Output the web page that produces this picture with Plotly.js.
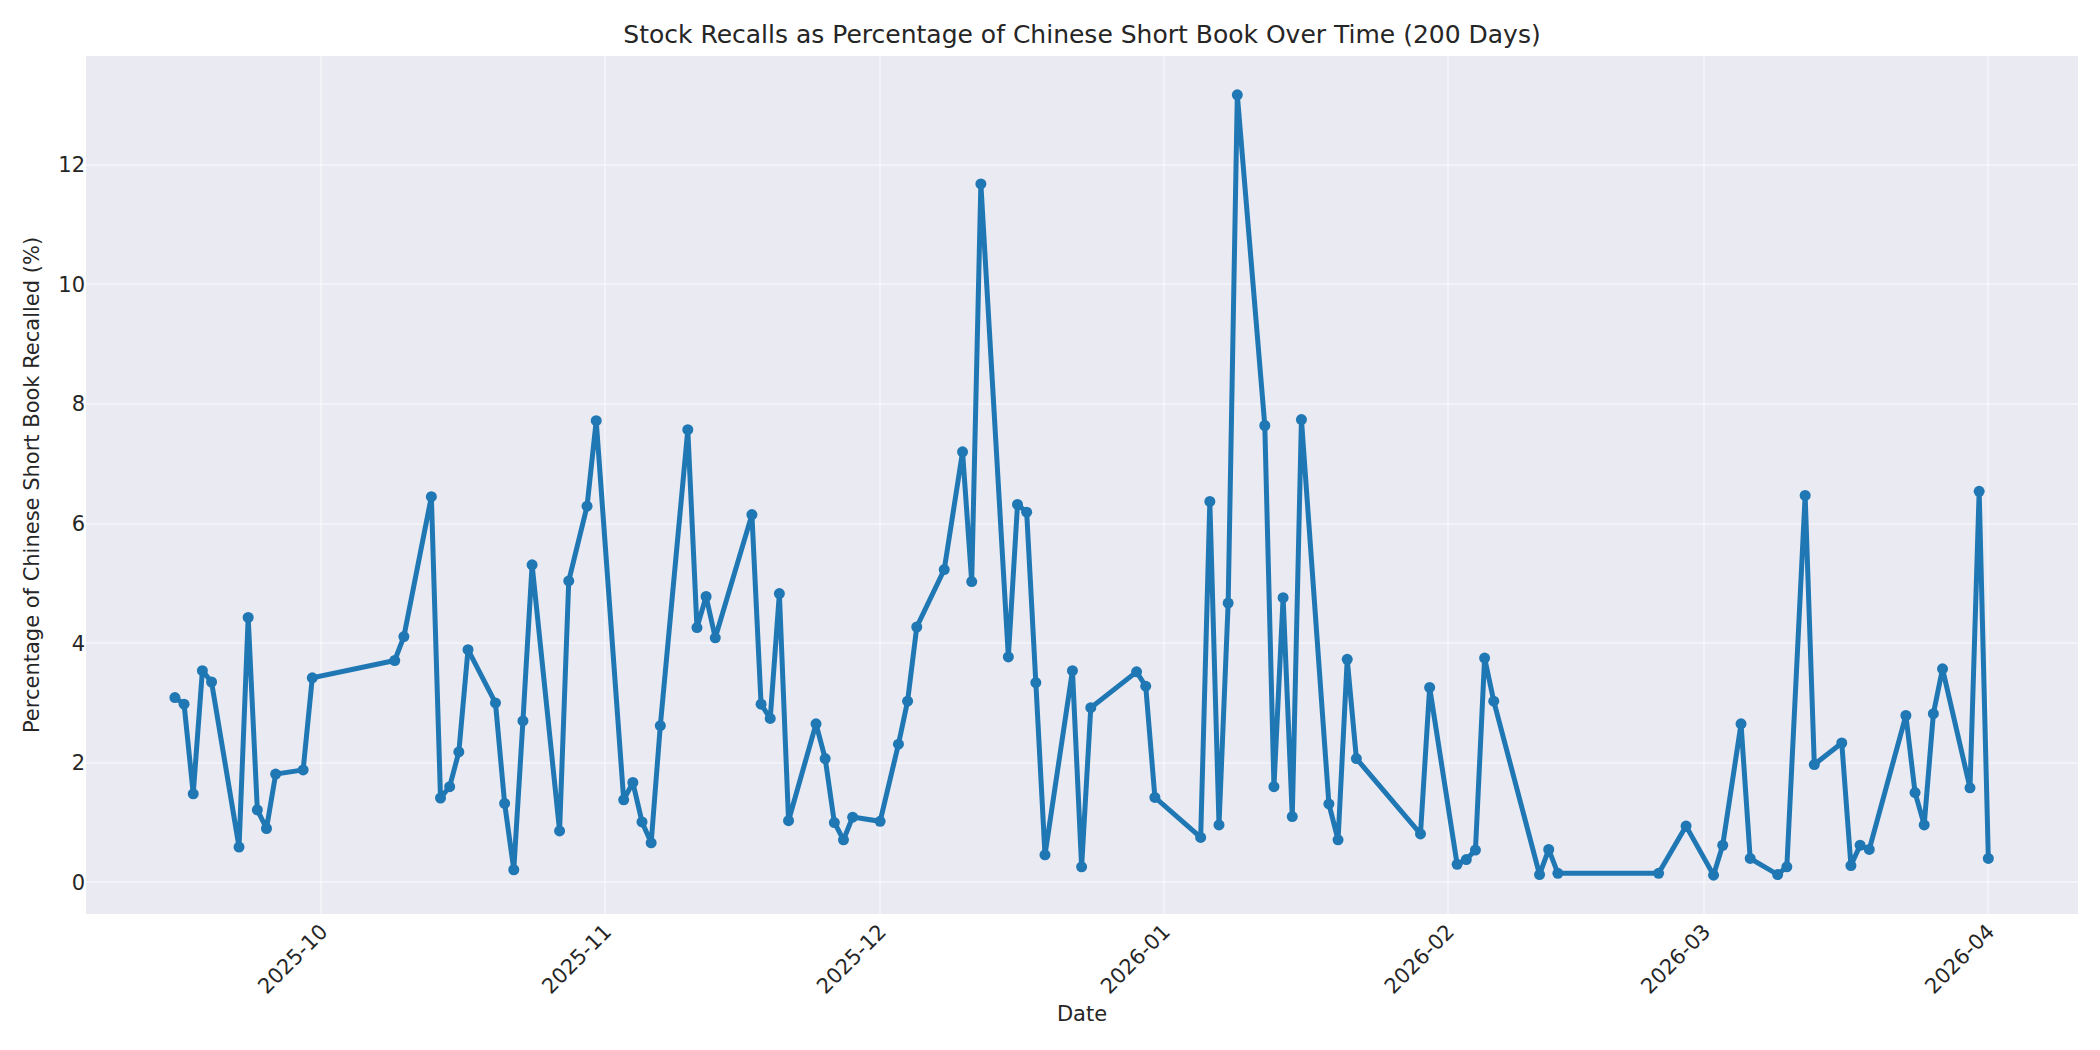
<!DOCTYPE html>
<html>
<head>
<meta charset="utf-8">
<script src="https://cdn.plot.ly/plotly-3.1.2.min.js"></script>
<style>
  html, body { margin: 0; padding: 0; background: #ffffff; }
  #recall-plot { width: 2100px; height: 1050px; }
</style>
</head>
<body>
<div id="recall-plot"></div>
<script>
// Trading days with a recall reading (Chinese market calendar, holiday gaps kept)
const recallDates = [
  "2025-09-15", "2025-09-16", "2025-09-17", "2025-09-18", "2025-09-19",
  "2025-09-22", "2025-09-23", "2025-09-24", "2025-09-25", "2025-09-26",
  "2025-09-29", "2025-09-30",
  "2025-10-09", "2025-10-10",
  "2025-10-13", "2025-10-14", "2025-10-15", "2025-10-16", "2025-10-17",
  "2025-10-20", "2025-10-21", "2025-10-22", "2025-10-23", "2025-10-24",
  "2025-10-27", "2025-10-28", "2025-10-30", "2025-10-31",
  "2025-11-03", "2025-11-04", "2025-11-05", "2025-11-06", "2025-11-07",
  "2025-11-10", "2025-11-11", "2025-11-12", "2025-11-13",
  "2025-11-17", "2025-11-18", "2025-11-19", "2025-11-20", "2025-11-21",
  "2025-11-24", "2025-11-25", "2025-11-26", "2025-11-27", "2025-11-28",
  "2025-12-01", "2025-12-03", "2025-12-04", "2025-12-05",
  "2025-12-08", "2025-12-10", "2025-12-11", "2025-12-12",
  "2025-12-15", "2025-12-16", "2025-12-17", "2025-12-18", "2025-12-19",
  "2025-12-22", "2025-12-23", "2025-12-24",
  "2025-12-29", "2025-12-30", "2025-12-31",
  "2026-01-05", "2026-01-06", "2026-01-07", "2026-01-08", "2026-01-09",
  "2026-01-12", "2026-01-13", "2026-01-14", "2026-01-15", "2026-01-16",
  "2026-01-19", "2026-01-20", "2026-01-21", "2026-01-22",
  "2026-01-29", "2026-01-30",
  "2026-02-02", "2026-02-03", "2026-02-04", "2026-02-05", "2026-02-06",
  "2026-02-11", "2026-02-12", "2026-02-13",
  "2026-02-24", "2026-02-27",
  "2026-03-02", "2026-03-03", "2026-03-05", "2026-03-06",
  "2026-03-09", "2026-03-10", "2026-03-12", "2026-03-13",
  "2026-03-16", "2026-03-17", "2026-03-18", "2026-03-19",
  "2026-03-23", "2026-03-24", "2026-03-25", "2026-03-26", "2026-03-27",
  "2026-03-30", "2026-03-31", "2026-04-01",
];

// Recalled share of the Chinese short book (%)
const recallPct = [
  3.09, 2.98, 1.48, 3.54, 3.35,
  0.59, 4.43, 1.21, 0.90, 1.81,
  1.88, 3.42,
  3.71, 4.11,
  6.45, 1.41, 1.60, 2.18, 3.89,
  3.00, 1.32, 0.21, 2.70, 5.31,
  0.86, 5.04, 6.29, 7.72,
  1.38, 1.67, 1.01, 0.66, 2.62,
  7.57, 4.26, 4.78, 4.09,
  6.15, 2.98, 2.74, 4.83, 1.03,
  2.65, 2.07, 1.00, 0.71, 1.09,
  1.02, 2.31, 3.03, 4.27,
  5.23, 7.20, 5.03, 11.68,
  3.77, 6.32, 6.19, 3.34, 0.46,
  3.54, 0.26, 2.92,
  3.52, 3.28, 1.42,
  0.75, 6.37, 0.96, 4.67, 13.17,
  7.64, 1.60, 4.76, 1.10, 7.74,
  1.31, 0.71, 3.73, 2.07,
  0.81, 3.26,
  0.30, 0.38, 0.54, 3.75, 3.03,
  0.13, 0.55, 0.15,
  0.15, 0.94,
  0.12, 0.62, 2.65, 0.40,
  0.13, 0.26, 6.47, 1.97,
  2.33, 0.28, 0.62, 0.55,
  2.79, 1.50, 0.96, 2.82, 3.57,
  1.58, 6.54, 0.40,
];

const textColor = "#262626";
const fontFamily = "DejaVu Sans, sans-serif";
const gridColor = "rgba(255,255,255,0.4)";

const recallTrace = {
  x: recallDates,
  y: recallPct,
  type: "scatter",
  mode: "lines+markers",
  line: { color: "#1f77b4", width: 5 },
  marker: { color: "#1f77b4", size: 11 },
  hoverinfo: "x+y",
};

const layout = {
  width: 2100,
  height: 1050,
  paper_bgcolor: "#ffffff",
  plot_bgcolor: "#EAEAF2",
  margin: { l: 86, r: 22, t: 56, b: 136 },
  showlegend: false,
  font: { family: fontFamily, color: textColor, size: 21 },
  title: {
    text: "Stock Recalls as Percentage of Chinese Short Book Over Time (200 Days)",
    font: { family: fontFamily, size: 25, color: textColor },
    x: 0.5,
    xref: "paper",
    xanchor: "center",
    y: 1 - 34 / 1050,
    yref: "container",
    yanchor: "middle",
  },
  xaxis: {
    type: "date",
    range: ["2025-09-05 07:00", "2026-04-10 19:00"],
    tick0: "2025-10-01",
    dtick: "M1",
    tickformat: "%Y-%m",
    tickangle: -45,
    tickfont: { size: 21, color: textColor },
    ticks: "",
    showline: false,
    zeroline: false,
    showgrid: true,
    gridcolor: gridColor,
    gridwidth: 2,
    title: {
      text: "Date",
      font: { size: 21, color: textColor },
      standoff: 8,
    },
  },
  yaxis: {
    range: [-0.53, 13.82],
    tick0: 0,
    dtick: 2,
    tickfont: { size: 21, color: textColor },
    ticks: "",
    showline: false,
    zeroline: false,
    showgrid: true,
    gridcolor: gridColor,
    gridwidth: 2,
    title: {
      text: "Percentage of Chinese Short Book Recalled (%)",
      font: { size: 21, color: textColor },
      standoff: 12,
    },
  },
};

Plotly.newPlot("recall-plot", [recallTrace], layout, { displayModeBar: false, staticPlot: true });
</script>
</body>
</html>
